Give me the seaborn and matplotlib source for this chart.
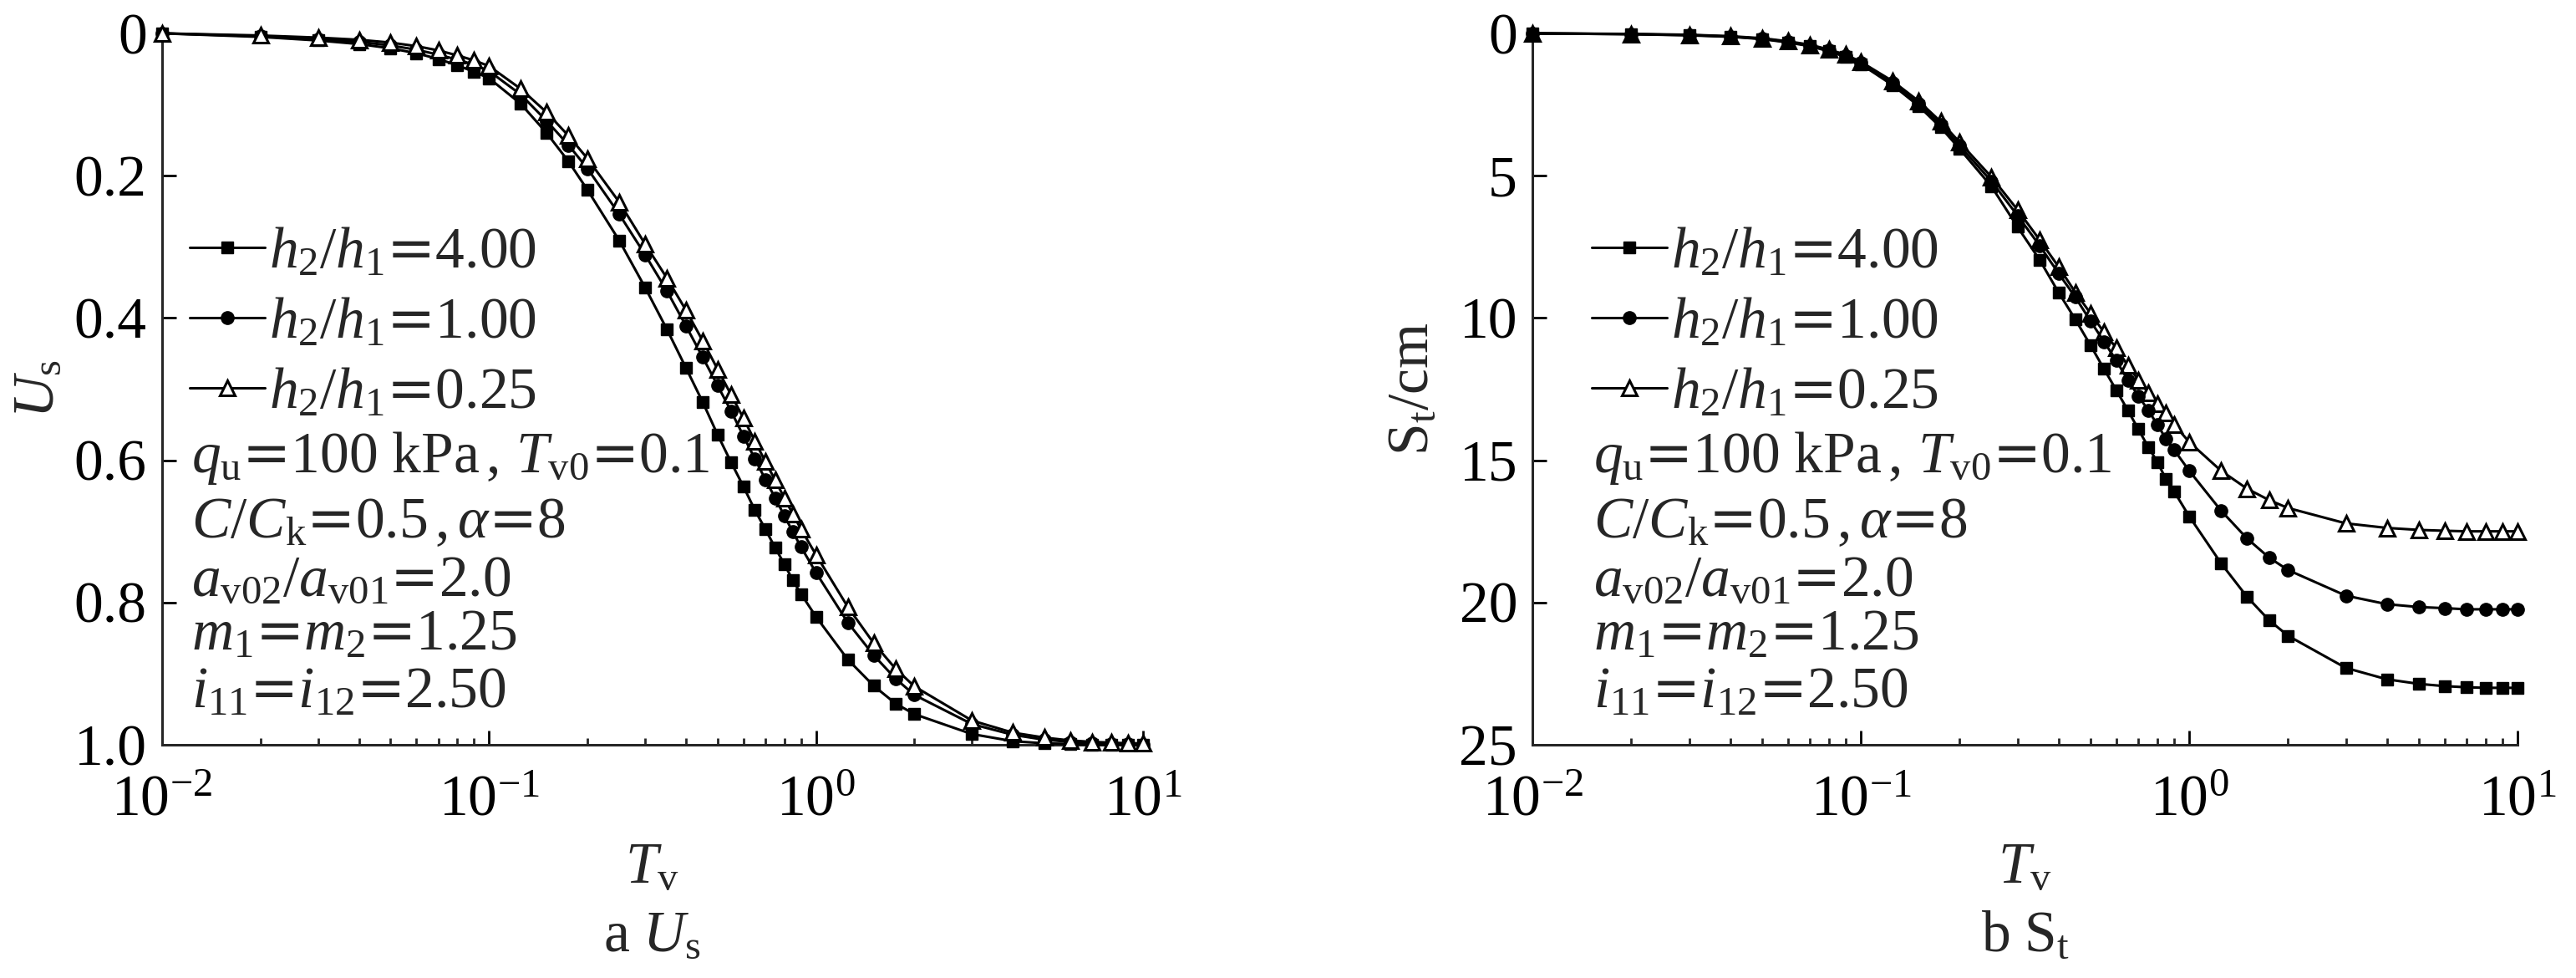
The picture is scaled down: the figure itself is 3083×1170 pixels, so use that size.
import matplotlib
matplotlib.use("Agg")
import matplotlib.pyplot as plt
import seaborn as sns
from matplotlib.ticker import FixedLocator, FixedFormatter, LogLocator, NullFormatter

# ---------------- data ----------------
tv = [0.01, 0.02, 0.03, 0.04, 0.05, 0.06, 0.07, 0.08, 0.09, 0.1,
      0.125, 0.15, 0.175, 0.2, 0.25, 0.3, 0.35, 0.4, 0.45, 0.5,
      0.55, 0.6, 0.65, 0.7, 0.75, 0.8, 0.85, 0.9, 1.0, 1.25,
      1.5, 1.75, 2, 3, 4, 5, 6, 7, 8, 9, 10]

# U_s, h2/h1 = 4.00 / 1.00 / 0.25
us_400 = [0.0, 0.005, 0.010, 0.015, 0.021, 0.028, 0.036, 0.045, 0.054, 0.063,
          0.099, 0.140, 0.180, 0.220, 0.291, 0.357, 0.416, 0.470, 0.518, 0.564,
          0.603, 0.637, 0.670, 0.697, 0.723, 0.746, 0.769, 0.788, 0.820, 0.880,
          0.917, 0.942, 0.957, 0.985, 0.995, 0.998, 0.999, 1.0, 1.0, 1.0, 1.0]
us_100 = [0.0, 0.004, 0.008, 0.012, 0.017, 0.023, 0.030, 0.037, 0.044, 0.053,
          0.086, 0.123, 0.157, 0.190, 0.254, 0.311, 0.362, 0.411, 0.455, 0.495,
          0.531, 0.566, 0.598, 0.627, 0.653, 0.678, 0.701, 0.722, 0.758, 0.828,
          0.874, 0.907, 0.930, 0.971, 0.986, 0.993, 0.996, 0.998, 0.999, 0.999, 1.0]
us_025 = [0.0, 0.003, 0.006, 0.009, 0.013, 0.018, 0.024, 0.031, 0.038, 0.046,
          0.078, 0.111, 0.144, 0.176, 0.237, 0.296, 0.344, 0.389, 0.432, 0.472,
          0.508, 0.541, 0.573, 0.602, 0.628, 0.653, 0.676, 0.697, 0.733, 0.806,
          0.857, 0.893, 0.918, 0.966, 0.983, 0.990, 0.994, 0.996, 0.997, 0.998, 0.998]

# S_t (cm), h2/h1 = 4.00 / 1.00 / 0.25
st_400 = [0.0, 0.03, 0.07, 0.12, 0.20, 0.32, 0.45, 0.63, 0.83, 1.08,
          1.82, 2.55, 3.30, 4.06, 5.38, 6.80, 7.95, 9.10, 10.05, 10.95,
          11.79, 12.54, 13.24, 13.91, 14.53, 15.06, 15.67, 16.10, 16.97, 18.62,
          19.80, 20.62, 21.17, 22.30, 22.70, 22.86, 22.94, 22.98, 23.0, 23.0, 23.0]
st_100 = [0.0, 0.03, 0.06, 0.11, 0.19, 0.30, 0.43, 0.60, 0.79, 1.03,
          1.74, 2.47, 3.20, 3.95, 5.20, 6.40, 7.45, 8.43, 9.27, 10.10,
          10.83, 11.50, 12.18, 12.74, 13.24, 13.75, 14.25, 14.64, 15.37, 16.77,
          17.75, 18.42, 18.86, 19.76, 20.06, 20.16, 20.20, 20.24, 20.24, 20.24, 20.24]
st_025 = [0.0, 0.02, 0.05, 0.10, 0.17, 0.28, 0.40, 0.57, 0.75, 1.00,
          1.68, 2.38, 3.10, 3.83, 5.05, 6.20, 7.25, 8.20, 9.10, 9.83,
          10.50, 11.06, 11.67, 12.18, 12.63, 13.02, 13.35, 13.75, 14.36, 15.37,
          16.00, 16.40, 16.68, 17.22, 17.38, 17.45, 17.48, 17.50, 17.50, 17.50, 17.50]

# the "=" stays outside the $...$ so it is drawn in DejaVu Sans (wide equals sign)
labels = [r'$h_2/h_1$=$4.00$', r'$h_2/h_1$=$1.00$', r'$h_2/h_1$=$0.25$']
notes = [r'$q_{\mathrm{u}}$=$100\ \mathrm{kPa}\,,\,T_{\mathrm{v0}}$=$0.1$',
         r'$C/C_{\mathrm{k}}$=$0.5\,,\alpha$=$8$',
         r'$a_{\mathrm{v02}}/a_{\mathrm{v01}}$=$2.0$',
         r'$m_1$=$m_2$=$1.25$',
         r'$i_{11}$=$i_{12}$=$2.50$']
note_y = [0.3825, 0.2914, 0.2100, 0.1340, 0.0520]

us_ticks = [0, 0.2, 0.4, 0.6, 0.8, 1.0]
us_ticklabels = ['0', '0.2', '0.4', '0.6', '0.8', '1.0']
st_ticks = [0, 5, 10, 15, 20, 25]
st_ticklabels = ['0', '5', '10', '15', '20', '25']

# ---------------- style ----------------
sns.set_style("ticks")
plt.rcParams['font.family'] = ['Liberation Serif', 'DejaVu Serif']
plt.rcParams['mathtext.fontset'] = 'custom'
plt.rcParams['mathtext.rm'] = 'Liberation Serif'
plt.rcParams['mathtext.it'] = 'Liberation Serif:italic'
FS = 50
EQ_FONT = 'DejaVu Sans'

fig = plt.figure(figsize=(30.83, 11.70), dpi=100)
ax1 = fig.add_axes([0.0629, 0.2385, 0.3808, 0.7274])
ax2 = fig.add_axes([0.5949, 0.2385, 0.3824, 0.7274])

styles = {
    '4.00': dict(marker='s', markersize=10.5, markerfacecolor='black',
                 markeredgecolor='black', markeredgewidth=1),
    '1.00': dict(marker='o', markersize=11, markerfacecolor='black',
                 markeredgecolor='black', markeredgewidth=1),
    '0.25': dict(marker='^', markersize=13, markerfacecolor='white',
                 markeredgecolor='black', markeredgewidth=2.2),
}


def draw(ax, series, order):
    for key in order:
        sns.lineplot(x=tv, y=series[key], ax=ax, color='black', linewidth=2.2,
                     clip_on=False, label=key, zorder=order.index(key) + 3,
                     **styles[key])


draw(ax1, {'4.00': us_400, '1.00': us_100, '0.25': us_025}, ['4.00', '1.00', '0.25'])
draw(ax2, {'4.00': st_400, '1.00': st_100, '0.25': st_025}, ['0.25', '1.00', '4.00'])

panels = [
    (ax1, (1.0, 0), us_ticks, us_ticklabels, r'$U_{\mathrm{s}}$', -0.098,
     r'$\mathrm{a}\ U_{\mathrm{s}}$', 0.028),
    (ax2, (25, 0), st_ticks, st_ticklabels, r'$\mathrm{S_t/cm}$', -0.094,
     r'$\mathrm{b\ S_t}$', 0.060),
]

for ax, ylim, yt, ytl, ylab, ylx, cap, tx in panels:
    ax.set_xscale('log')
    ax.set_xlim(0.01, 10)
    ax.set_ylim(*ylim)
    ax.yaxis.set_major_locator(FixedLocator(yt))
    ax.yaxis.set_major_formatter(FixedFormatter(ytl))
    ax.xaxis.set_major_locator(LogLocator(base=10))
    ax.xaxis.set_minor_locator(LogLocator(base=10, subs=[2, 3, 4, 5, 6, 7, 8, 9]))
    ax.xaxis.set_minor_formatter(NullFormatter())
    sns.despine(ax=ax)
    for sp in ['left', 'bottom']:
        ax.spines[sp].set_linewidth(2.2)
    ax.tick_params(axis='both', which='major', direction='in', length=12,
                   width=2, labelsize=FS, colors='black')
    ax.tick_params(axis='x', which='minor', direction='in', length=6, width=2)
    ax.tick_params(axis='y', pad=13)
    ax.tick_params(axis='x', which='major', pad=26)

    ax.set_ylabel(ylab, fontsize=FS)
    ax.yaxis.set_label_coords(ylx, 0.5)
    ax.set_xlabel(r'$T_{\mathrm{v}}$', fontsize=FS)
    ax.xaxis.set_label_coords(0.5, -0.193)
    ax.xaxis.label.set_va('baseline')
    ax.text(0.5, -0.289, cap, transform=ax.transAxes, ha='center',
            va='baseline', fontsize=FS)

    h, l = ax.get_legend_handles_labels()
    hd = dict(zip(l, h))
    ax.legend([hd['4.00'], hd['1.00'], hd['0.25']], labels, loc='center left',
              bbox_to_anchor=(tx, 0.5946), frameon=False,
              prop={'family': EQ_FONT, 'size': FS},
              handlelength=1.3, handletextpad=0.07, labelspacing=0.25,
              borderpad=0, borderaxespad=0)
    for s, yy in zip(notes, note_y):
        ax.text(tx + 0.002, yy, s, transform=ax.transAxes, ha='left',
                va='baseline', fontsize=FS, family=EQ_FONT)

fig.savefig('out.png', dpi=100)
